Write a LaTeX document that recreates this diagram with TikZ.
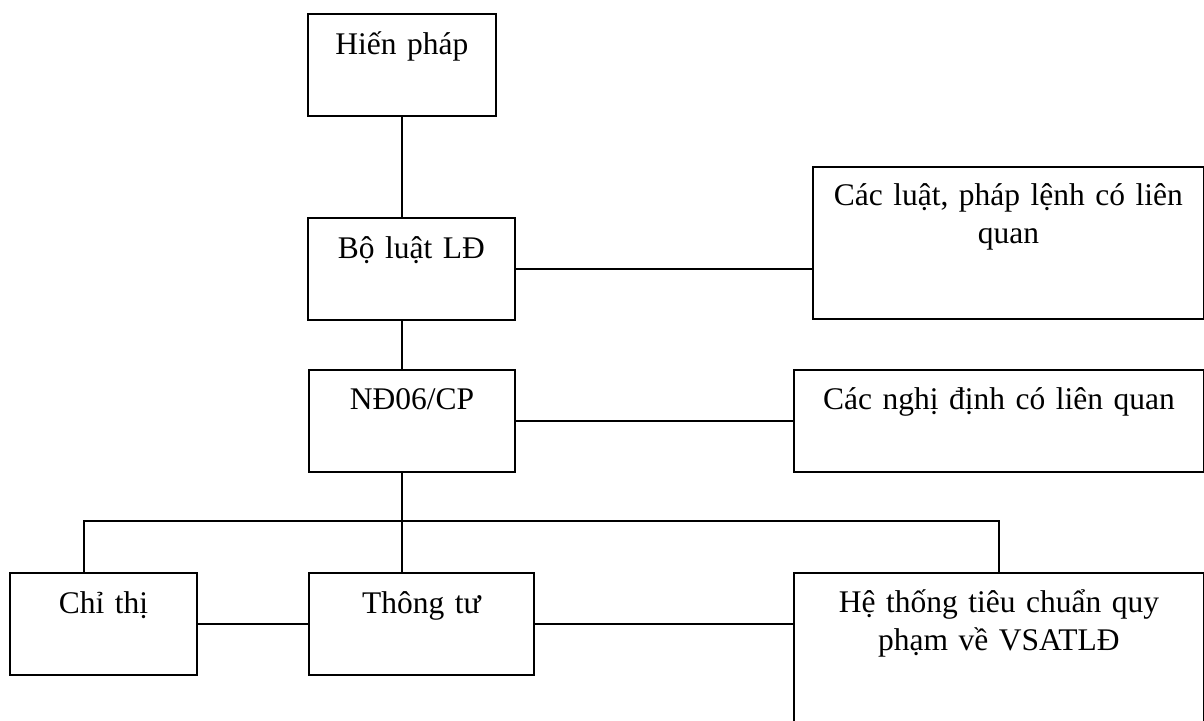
\documentclass[tikz,border=0pt]{standalone}
\usepackage{fontspec}
\setmainfont{Liberation Serif}
\usetikzlibrary{calc}
\begin{document}
\begin{tikzpicture}[x=1pt,y=-1pt,
  box/.style={draw, line width=1.8pt, inner sep=0pt, anchor=north west},
  txt/.style={anchor=base, inner sep=0pt, text width=380pt, align=center,
    font=\fontsize{31.5}{38}\selectfont},
  conn/.style={line width=1.8pt}]
\useasboundingbox (0,0) rectangle (1204,720);
% boxes
\node[box, minimum width=188pt, minimum height=102pt] (hp) at (307,13) {};
\node[box, minimum width=207pt, minimum height=102pt] (bl) at (307,217) {};
\node[box, minimum width=391pt, minimum height=152pt] (cl) at (812,166) {};
\node[box, minimum width=206pt, minimum height=102pt] (nd) at (308,369) {};
\node[box, minimum width=410pt, minimum height=102pt] (cnd) at (793,369) {};
\node[box, minimum width=187pt, minimum height=102pt] (ct) at (9,572) {};
\node[box, minimum width=225pt, minimum height=102pt] (tt) at (308,572) {};
\node[box, minimum width=410pt, minimum height=220pt] (ht) at (793,572) {};
% texts
\node[txt] (hpT) at ($(hp.north)+(0,41)$) {Hiến pháp};
\node[txt] (blT) at ($(bl.north)+(0,41)$) {Bộ luật LĐ};
\node[txt] (clT) at ($(cl.north)+(0,39)$) {Các luật, pháp lệnh có liên\\quan};
\node[txt] (ndT) at ($(nd.north)+(0,40)$) {NĐ06/CP};
\node[txt] (cndT) at ($(cnd.north)+(0,40)$) {Các nghị định có liên quan};
\node[txt] (ctT) at ($(ct.north)+(0,41)$) {Chỉ thị};
\node[txt] (ttT) at ($(tt.north)+(0,41)$) {Thông tư};
\node[txt] (htT) at ($(ht.north)+(0,40)$) {Hệ thống tiêu chuẩn quy\\phạm về VSATLĐ};
% connector helpers
\coordinate (sp) at (402,0);
\coordinate (busL) at (84,521);
\coordinate (busR) at (999,521);
% connectors
\draw[conn] (sp |- hp.south) -- (sp |- bl.north);
\draw[conn] (sp |- bl.south) -- (sp |- nd.north);
\draw[conn] (bl.east) -- (bl.east -| cl.west);
\draw[conn] (nd.east) -- (nd.east -| cnd.west);
\draw[conn] (sp |- nd.south) -- (sp |- tt.north);
\draw[conn] (busL |- ct.north) -- (busL) -- (busR) -- (busR |- ht.north);
\draw[conn] (ct.east) -- (tt.west);
\draw[conn] (tt.east) -- (tt.east -| ht.west);
\end{tikzpicture}
\end{document}
